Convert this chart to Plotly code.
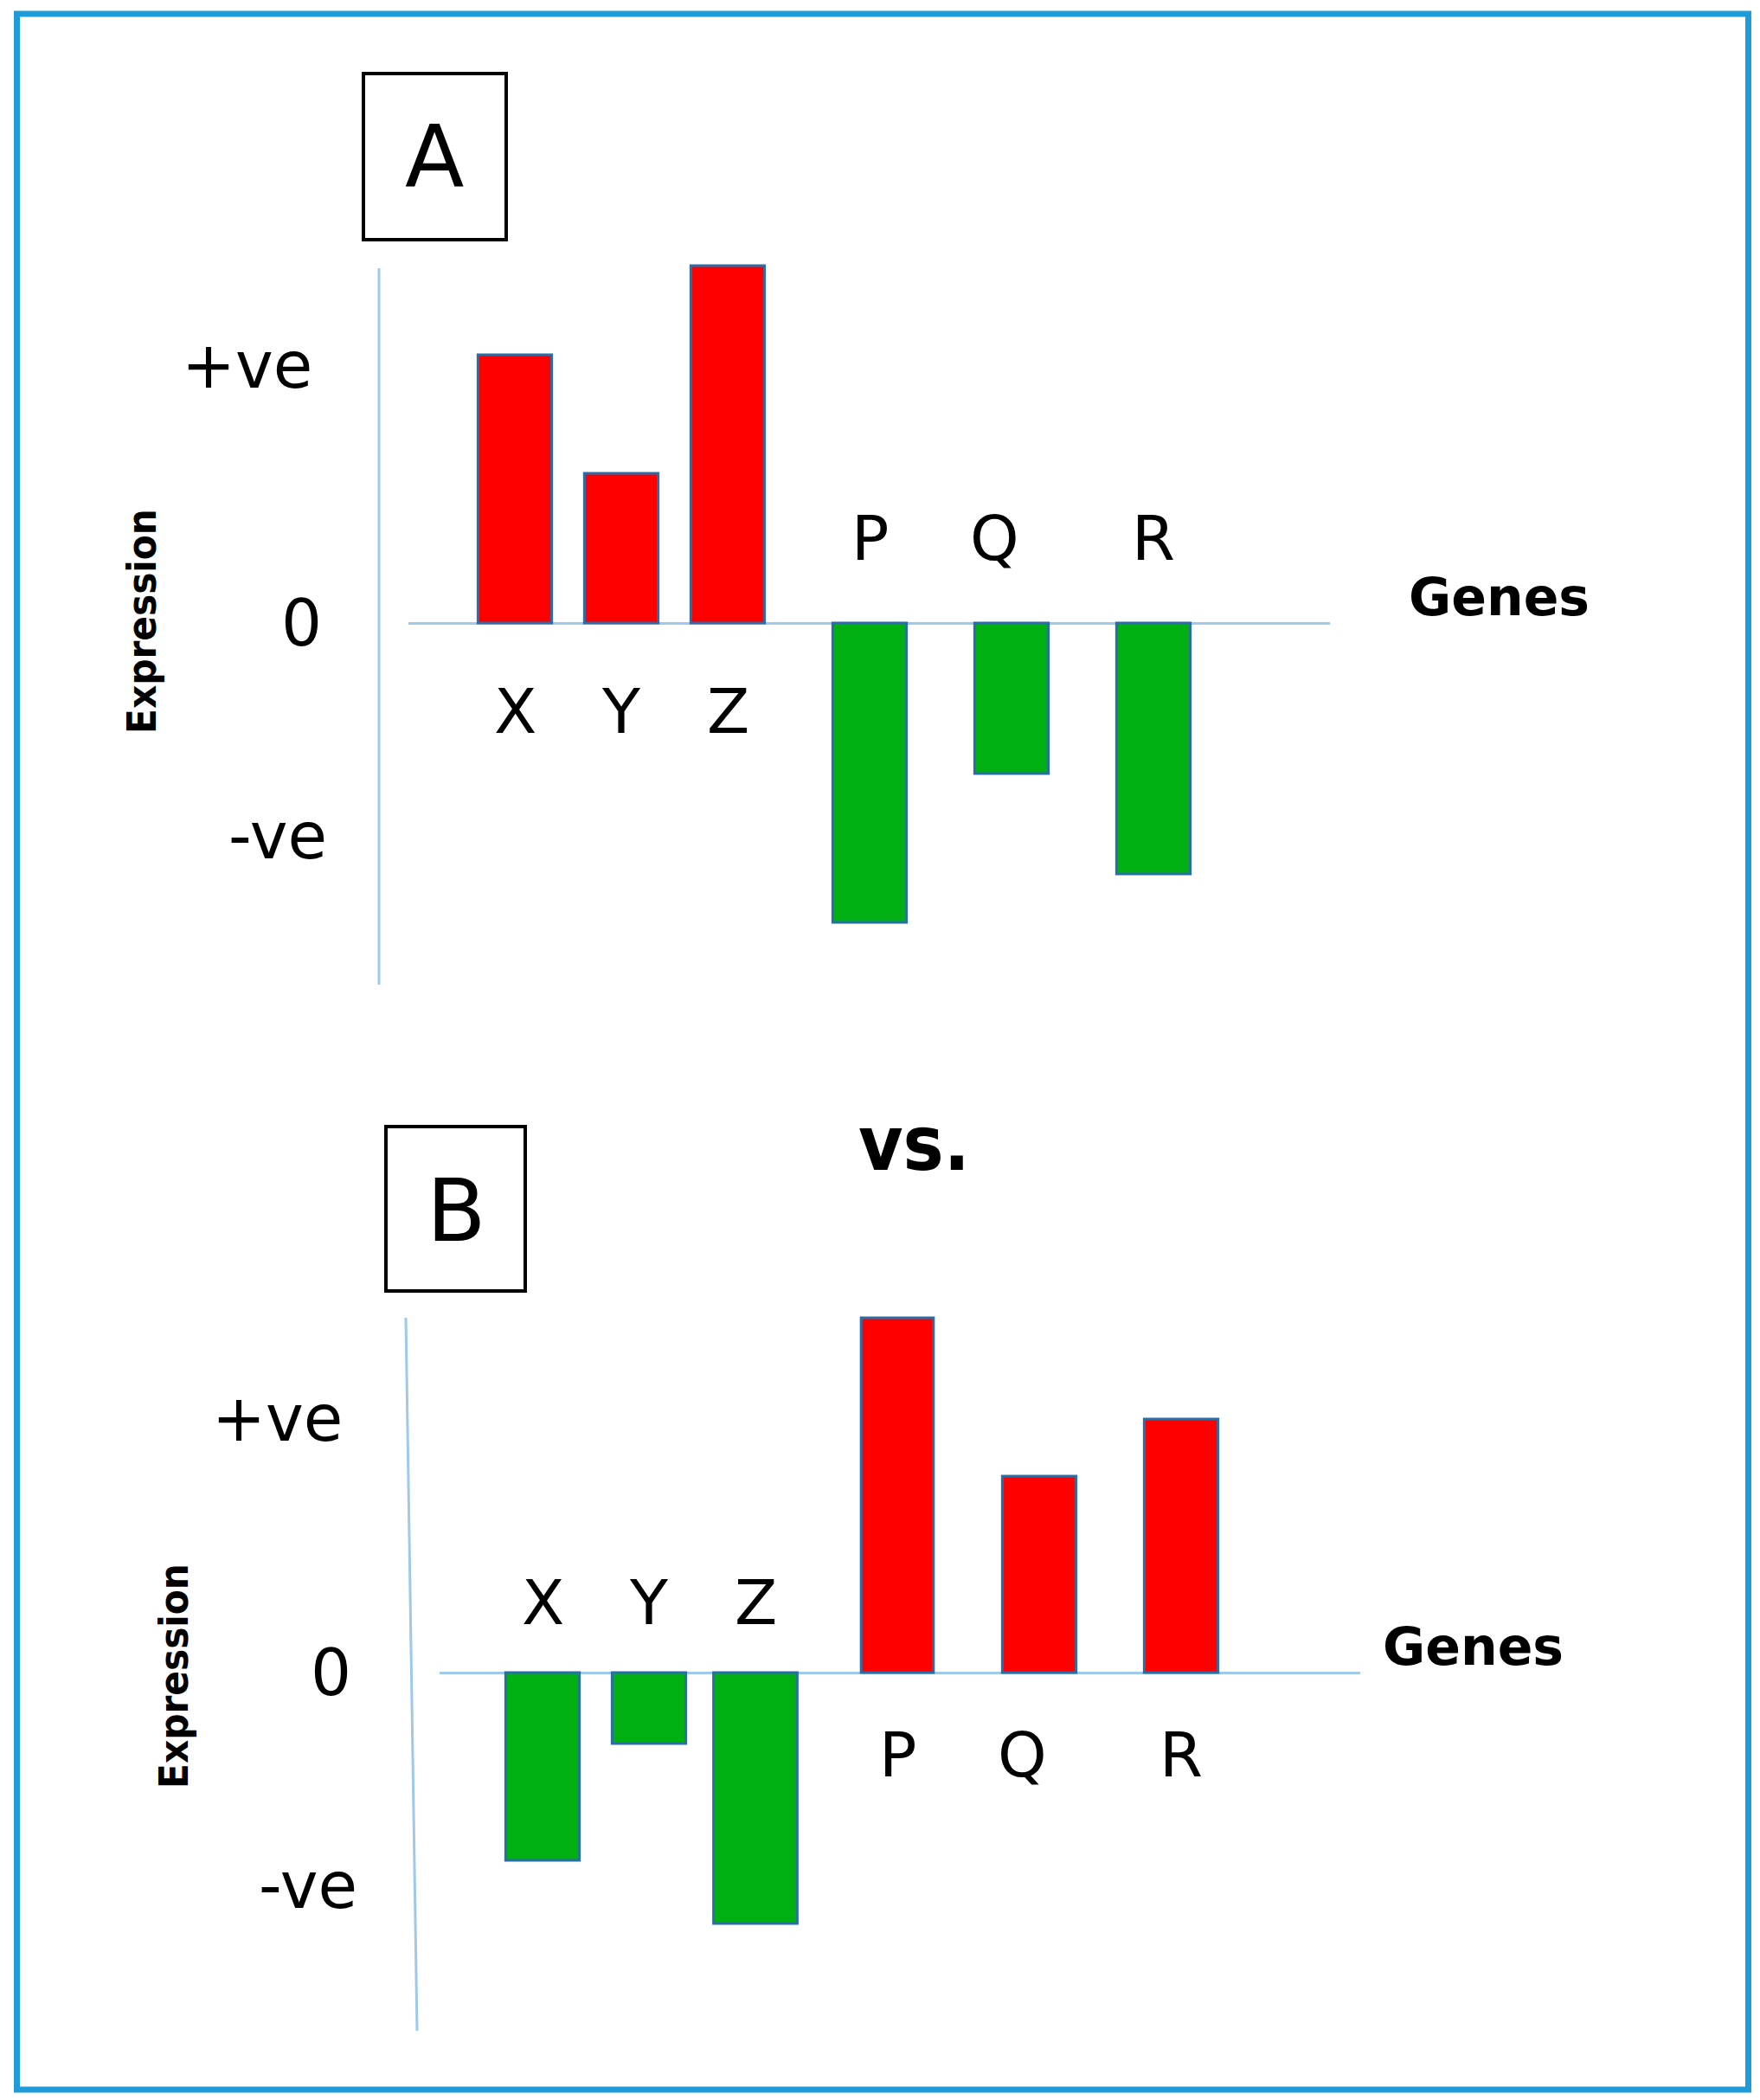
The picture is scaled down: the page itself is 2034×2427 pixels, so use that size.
import plotly.graph_objects as go

# ---------------- data ----------------
genes = ["X", "Y", "Z", "P", "Q", "R"]
expr_A = [3.10, 1.73, 4.13, -3.46, -1.74, -2.90]
expr_B = [-2.17, -0.82, -2.90, 4.10, 2.27, 2.93]
tick_text = ["+ve", "0", "-ve"]
tick_vals_A = [2.94, 0, -2.50]
tick_vals_B = [2.90, 0, -2.50]
panel_labels = ["A", "B"]

# ---------------- layout helpers ----------------
PAGE_W, PAGE_H = 2034, 2427
OFF = 8                       # default body margin of the html page
W, H = PAGE_W - 2 * OFF, PAGE_H - 2 * OFF
slot = [0, 0.75, 1.5, 2.5, 3.5, 4.5]   # gene slots along the axis


def fx(p):
    return (p - OFF) / W


def fy(p):
    return 1 - (p - OFF) / H


RED = "#ff0000"
GREEN = "#00b012"
EDGE = "#2a6ea8"
AXIS = "#9fc9ea"
TXT = "DejaVu Sans, Liberation Sans, sans-serif"
NARROW = "Liberation Sans Narrow, DejaVu Sans Condensed, Roboto Condensed, DejaVu Sans, sans-serif"

panels = [
    dict(vals=expr_A, ticks=tick_vals_A, xdom=(472, 1537), ydom=(290, 1160), zero=720, x0=595,
         widths=[0.52] * 6, tick_right=[363, 374, 380], lab_up=0.98, lab_dn=-1.02,
         axis_line=((438, 310), (438, 1138)), box=(420, 85, 585, 277), box_txt=(502, 181),
         expr_pos=(163, 718), genes_pos=(1732, 690)),
    dict(vals=expr_B, ticks=tick_vals_B, xdom=(508, 1572), ydom=(1500, 2370), zero=1933, x0=627,
         widths=[0.52, 0.52, 0.59, 0.51, 0.52, 0.52], tick_right=[398, 408, 415], lab_up=0.81, lab_dn=-0.95,
         axis_line=((469, 1523), (482, 2347)), box=(446, 1302, 607, 1492), box_txt=(527, 1399),
         expr_pos=(200, 1937), genes_pos=(1702, 1903)),
]
UNIT_X = 164.0   # px per slot
UNIT_Y = 100.0   # px per expression unit

fig = go.Figure()
shapes = []
annotations = []

for i, p in enumerate(panels):
    sfx = "" if i == 0 else str(i + 1)
    xa, ya = "x" + sfx, "y" + sfx
    colors = [RED if v > 0 else GREEN for v in p["vals"]]
    fig.add_trace(go.Bar(
        x=slot, y=p["vals"], width=p["widths"], xaxis=xa, yaxis=ya,
        marker=dict(color=colors, line=dict(color=EDGE, width=3)),
        showlegend=False, hoverinfo="skip",
    ))
    x_lo = (p["xdom"][0] - p["x0"]) / UNIT_X
    x_hi = (p["xdom"][1] - p["x0"]) / UNIT_X
    y_hi = (p["zero"] - p["ydom"][0]) / UNIT_Y
    y_lo = (p["zero"] - p["ydom"][1]) / UNIT_Y
    fig.update_layout(**{
        "xaxis" + sfx: dict(domain=[fx(p["xdom"][0]), fx(p["xdom"][1])], range=[x_lo, x_hi],
                            anchor=ya, visible=True, showgrid=False, zeroline=False,
                            showticklabels=False, showline=False, ticks=""),
        "yaxis" + sfx: dict(domain=[fy(p["ydom"][1]), fy(p["ydom"][0])], range=[y_lo, y_hi],
                            anchor=xa, showgrid=False, zeroline=True, zerolinecolor=AXIS,
                            zerolinewidth=3, showticklabels=False, showline=False, ticks=""),
    })

    # vertical axis line
    (ax0, ay0), (ax1, ay1) = p["axis_line"]
    shapes.append(dict(type="line", xref="paper", yref=ya,
                       x0=fx(ax0), y0=(p["zero"] - ay0) / UNIT_Y,
                       x1=fx(ax1), y1=(p["zero"] - ay1) / UNIT_Y,
                       line=dict(color=AXIS, width=3)))

    # tick labels
    for t, v, r in zip(tick_text, p["ticks"], p["tick_right"]):
        annotations.append(dict(text=t, xref="paper", yref=ya, x=fx(r), y=v,
                                xanchor="right", yanchor="middle", showarrow=False,
                                yshift=4 if t != "0" else 0,
                                font=dict(family=TXT, size=74, color="black")))

    # gene labels
    for g, s, v in zip(genes, slot, p["vals"]):
        annotations.append(dict(text=g, xref=xa, yref=ya, x=s,
                                y=p["lab_dn"] if v > 0 else p["lab_up"],
                                xshift=-20 if g == "Q" else 0,
                                xanchor="center", yanchor="middle", showarrow=False,
                                font=dict(family=TXT, size=72, color="black")))

    # panel label box
    bx0, by0, bx1, by1 = p["box"]
    shapes.append(dict(type="rect", xref="paper", yref="paper",
                       x0=fx(bx0), y0=fy(by1), x1=fx(bx1), y1=fy(by0),
                       line=dict(color="black", width=4)))
    annotations.append(dict(text=panel_labels[i], xref="paper", yref="paper",
                            x=fx(p["box_txt"][0]), y=fy(p["box_txt"][1]),
                            xanchor="center", yanchor="middle", showarrow=False,
                            font=dict(family=TXT, size=100, color="black")))

    # axis titles
    annotations.append(dict(text="<b>Expression</b>", xref="paper", yref="paper",
                            x=fx(p["expr_pos"][0]), y=fy(p["expr_pos"][1]), textangle=-90,
                            xanchor="center", yanchor="middle", showarrow=False,
                            font=dict(family=NARROW, size=47, color="black")))
    annotations.append(dict(text="<b>Genes</b>", xref="paper", yref="paper",
                            x=fx(p["genes_pos"][0]), y=fy(p["genes_pos"][1]),
                            xanchor="center", yanchor="middle", showarrow=False,
                            font=dict(family=TXT, size=60, color="black")))

# "vs." between the panels
annotations.append(dict(text="<b>vs.</b>", xref="paper", yref="paper",
                        x=fx(1056), y=fy(1321), xanchor="center", yanchor="middle",
                        showarrow=False, font=dict(family=NARROW, size=88, color="black")))

# outer frame
shapes.append(dict(type="rect", xref="paper", yref="paper",
                   x0=fx(19.5), y0=fy(2415), x1=fx(2020.5), y1=fy(16),
                   line=dict(color="#1e9bd8", width=7)))

fig.update_layout(
    width=W, height=H, margin=dict(l=0, r=0, t=0, b=0),
    paper_bgcolor="white", plot_bgcolor="white",
    shapes=shapes, annotations=annotations, barmode="overlay",
)

fig.write_html("out.html")
